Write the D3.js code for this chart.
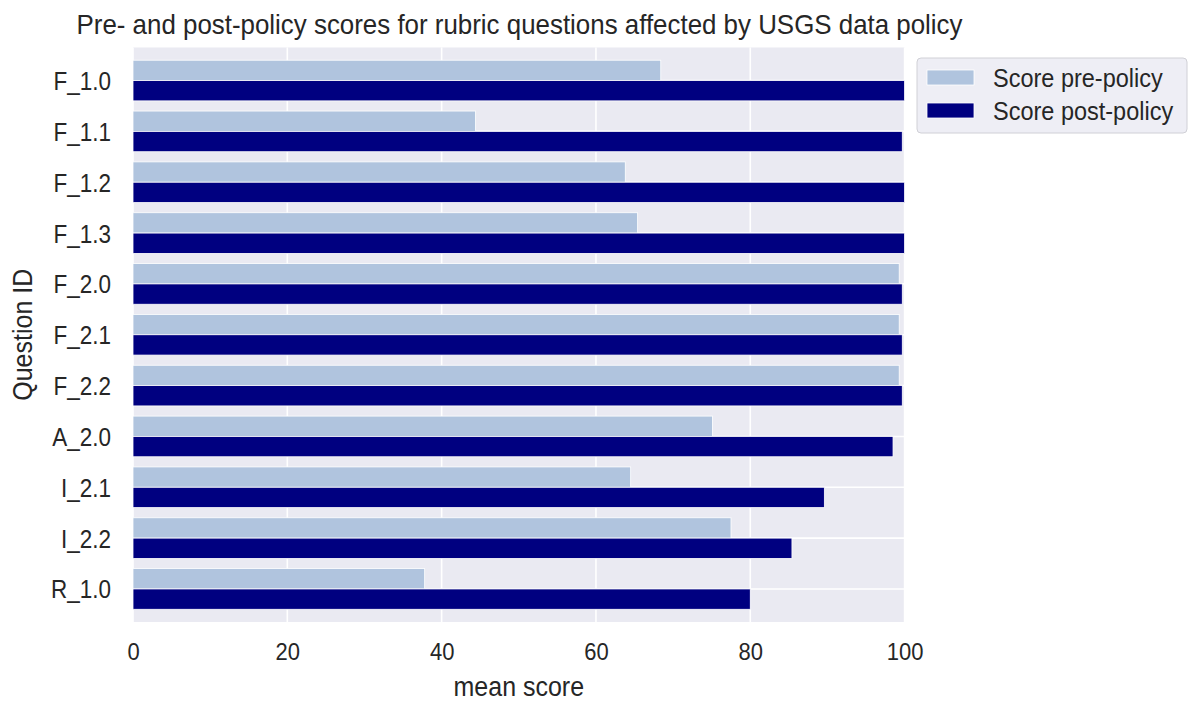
<!DOCTYPE html>
<html>
<head>
<meta charset="utf-8">
<script src="https://cdn.jsdelivr.net/npm/d3@7"></script>
<style>
  body { margin: 0; background: #fff; }
  text { font-family: "Liberation Sans", Arial, sans-serif; fill: #262626; }
</style>
</head>
<body>
<svg id="chart"></svg>
<script>
const questions = ['F_1.0', 'F_1.1', 'F_1.2', 'F_1.3', 'F_2.0', 'F_2.1', 'F_2.2', 'A_2.0', 'I_2.1', 'I_2.2', 'R_1.0'];
const preScores = [68.4, 44.4, 63.8, 65.4, 99.3, 99.3, 99.3, 75.1, 64.5, 77.5, 37.8];
const postScores = [100, 99.7, 100, 100, 99.7, 99.7, 99.7, 98.5, 89.6, 85.4, 80.0];
const xTicks = [0, 20, 40, 60, 80, 100];
const seriesNames = ['Score pre-policy', 'Score post-policy'];

const chartWidth = 1200;
const chartHeight = 712;
const plotLeft = 133;
const plotRight = 904.6;
const plotTop = 47.5;
const plotBottom = 622;
const stretch = 1.12; // text in the picture is a bit taller than wide

const colors = ['#b0c4de', '#000080'];

const xScale = d3.scaleLinear()
      .domain([0, 100])
      .range([plotLeft, plotRight]);

const yScale = d3.scaleLinear()
      .domain([-0.65, questions.length - 1 + 0.65])
      .range([plotTop, plotBottom]);

const chart = d3.select('#chart')
      .attr('width', chartWidth)
      .attr('height', chartHeight);

// plot background
chart.append('rect')
    .attr('x', plotLeft)
    .attr('y', plotTop)
    .attr('width', plotRight - plotLeft)
    .attr('height', plotBottom - plotTop)
    .attr('fill', '#eaeaf2');

// grid
chart.append('g')
    .selectAll('line')
    .data(xTicks)
    .enter()
    .append('line')
    .attr('x1', d => xScale(d))
    .attr('x2', d => xScale(d))
    .attr('y1', plotTop)
    .attr('y2', plotBottom)
    .attr('stroke', '#fff')
    .attr('stroke-width', 1.6);

chart.append('g')
    .selectAll('line')
    .data(questions)
    .enter()
    .append('line')
    .attr('x1', plotLeft)
    .attr('x2', plotRight)
    .attr('y1', (_, i) => yScale(i))
    .attr('y2', (_, i) => yScale(i))
    .attr('stroke', '#fff')
    .attr('stroke-width', 1.6);

// bars
[preScores, postScores].forEach((values, s) => {
  chart.append('g')
      .selectAll('rect')
      .data(values)
      .enter()
      .append('rect')
      .attr('x', xScale(0))
      .attr('y', (_, i) => yScale(i - 0.4 + s * 0.4))
      .attr('width', d => xScale(d) - xScale(0))
      .attr('height', yScale(0.4) - yScale(0))
      .attr('fill', colors[s])
      .attr('stroke', '#fff')
      .attr('stroke-width', 0.8);
});

// y axis labels
const yAxis = d3.axisLeft(yScale)
      .tickValues(d3.range(questions.length))
      .tickFormat(i => questions[i])
      .tickSize(0)
      .tickPadding(22);

const yAxisG = chart.append('g')
    .attr('transform', `translate(${plotLeft}, 0)`)
    .call(yAxis);
yAxisG.select('.domain').remove();
yAxisG.attr('font-family', null);
yAxisG.selectAll('text')
    .attr('font-size', 22.5)
    .attr('fill', '#262626')
    .attr('dy', null)
    .attr('y', 0)
    .attr('dominant-baseline', 'central')
    .attr('transform', `scale(1, ${stretch})`);

// x axis labels
const xAxis = d3.axisBottom(xScale)
      .tickValues(xTicks)
      .tickSize(0)
      .tickPadding(0);

const xAxisG = chart.append('g')
    .attr('transform', `translate(0, ${plotBottom})`)
    .call(xAxis);
xAxisG.select('.domain').remove();
xAxisG.attr('font-family', null);
xAxisG.selectAll('text')
    .attr('font-size', 22)
    .attr('fill', '#262626')
    .attr('dy', null)
    .attr('y', 38.5 / stretch)
    .attr('transform', `scale(1, ${stretch})`);

// stretched text helper
function label(x, y, txt, size, anchor, rotate, sy) {
  chart.append('g')
      .attr('transform', `translate(${x}, ${y}) rotate(${rotate || 0}) scale(1, ${sy || stretch})`)
      .append('text')
      .attr('text-anchor', anchor)
      .attr('font-size', size)
      .text(txt);
}

label(519.5, 34, 'Pre- and post-policy scores for rubric questions affected by USGS data policy', 25.9, 'middle', 0, 1.05);
label((plotLeft + plotRight) / 2, 696, 'mean score', 25, 'middle');
label(32, (plotTop + plotBottom) / 2, 'Question ID', 25, 'middle', -90);

// legend
const legend = chart.append('g')
    .attr('transform', 'translate(917, 58)');

legend.append('rect')
    .attr('width', 270)
    .attr('height', 75)
    .attr('rx', 4)
    .attr('fill', '#eeeef5')
    .attr('stroke', '#d0d0d6')
    .attr('stroke-width', 1);

legend.selectAll('rect.key')
    .data(seriesNames)
    .enter()
    .append('rect')
    .classed('key', true)
    .attr('x', 10)
    .attr('y', (_, i) => 12 + i * 33)
    .attr('width', 47)
    .attr('height', 15)
    .attr('fill', (_, i) => colors[i])
    .attr('stroke', '#fff')
    .attr('stroke-width', 0.8);

seriesNames.forEach((name, i) => {
  legend.append('g')
      .attr('transform', `translate(76, ${19.5 + i * 33}) scale(1, ${stretch})`)
      .append('text')
      .attr('font-size', 23.5)
      .attr('dominant-baseline', 'central')
      .text(name);
});
</script>
</body>
</html>
